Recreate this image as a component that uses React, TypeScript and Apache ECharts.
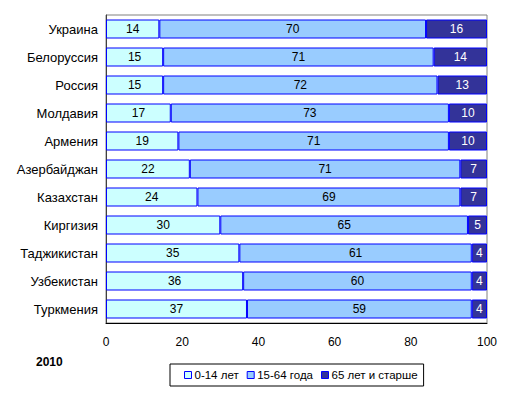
import React, { useEffect, useRef } from "react";
import * as echarts from "echarts";

const countries = [
  "Украина",
  "Белоруссия",
  "Россия",
  "Молдавия",
  "Армения",
  "Азербайджан",
  "Казахстан",
  "Киргизия",
  "Таджикистан",
  "Узбекистан",
  "Туркмения",
];
const age0to14 = [14, 15, 15, 17, 19, 22, 24, 30, 35, 36, 37];
const age15to64 = [70, 71, 72, 73, 71, 71, 69, 65, 61, 60, 59];
const age65plus = [16, 14, 13, 10, 10, 7, 7, 5, 4, 4, 4];
const seriesNames = ["0-14 лет", "15-64 года", "65 лет и старше"];
const xTicks = [0, 20, 40, 60, 80, 100];
const yearLabel = "2010";

const FONT = "'Liberation Sans', Arial, sans-serif";

export default function App() {
  const ref = useRef<HTMLDivElement>(null);
  useEffect(() => {
    if (!ref.current) return;
    const chart = echarts.init(ref.current, null, { renderer: "svg" });
    const mk = (name: string, data: number[], color: string, labelColor: string) => ({
      name,
      type: "bar",
      stack: "total",
      data,
      barWidth: 19,
      itemStyle: { color, borderColor: "#0000FF", borderWidth: 1 },
      label: {
        show: true,
        position: "inside",
        color: labelColor,
        fontSize: 12,
        fontFamily: FONT,
      },
    });
    chart.setOption({
      animation: false,
      textStyle: { fontFamily: FONT },
      grid: {
        left: 106,
        right: 27,
        top: 15,
        bottom: 72,
        show: true,
        borderColor: "#808080",
        borderWidth: 1,
      },
      xAxis: {
        type: "value",
        min: xTicks[0],
        max: xTicks[xTicks.length - 1],
        interval: 20,
        splitLine: { show: false },
        axisTick: { show: false },
        axisLine: { show: true, lineStyle: { color: "#000", width: 1 } },
        axisLabel: { fontSize: 12, color: "#000", margin: 13, fontFamily: FONT },
      },
      yAxis: {
        type: "category",
        data: countries,
        inverse: true,
        axisTick: { show: false },
        axisLine: { show: true, lineStyle: { color: "#404040", width: 1 } },
        axisLabel: { fontSize: 13, color: "#000", margin: 8, fontFamily: FONT },
      },
      legend: {
        left: 170,
        top: 364,
        data: seriesNames,
        orient: "horizontal",
        itemWidth: 7,
        itemHeight: 7,
        itemGap: 8,
        padding: [5, 6, 5, 14],
        borderColor: "#000",
        borderWidth: 1,
        textStyle: { fontSize: 11.5, color: "#000", fontFamily: FONT, padding: [0, 0, 0, -2] },
        icon: "rect",
        itemStyle: { borderColor: "#0000FF", borderWidth: 1 },
      },
      graphic: [
        {
          type: "text",
          left: 36,
          top: 356,
          style: {
            text: yearLabel,
            fontSize: 12,
            fontWeight: "bold",
            fill: "#000",
            fontFamily: FONT,
          },
        },
      ],
      series: [
        mk(seriesNames[0], age0to14, "#CCFFFF", "#000"),
        mk(seriesNames[1], age15to64, "#99CCFF", "#000"),
        mk(seriesNames[2], age65plus, "#333399", "#FFF"),
      ],
    });
    return () => chart.dispose();
  }, []);
  return <div ref={ref} style={{ width: 514, height: 395, position: "absolute", left: 0, top: 0 }} />;
}
